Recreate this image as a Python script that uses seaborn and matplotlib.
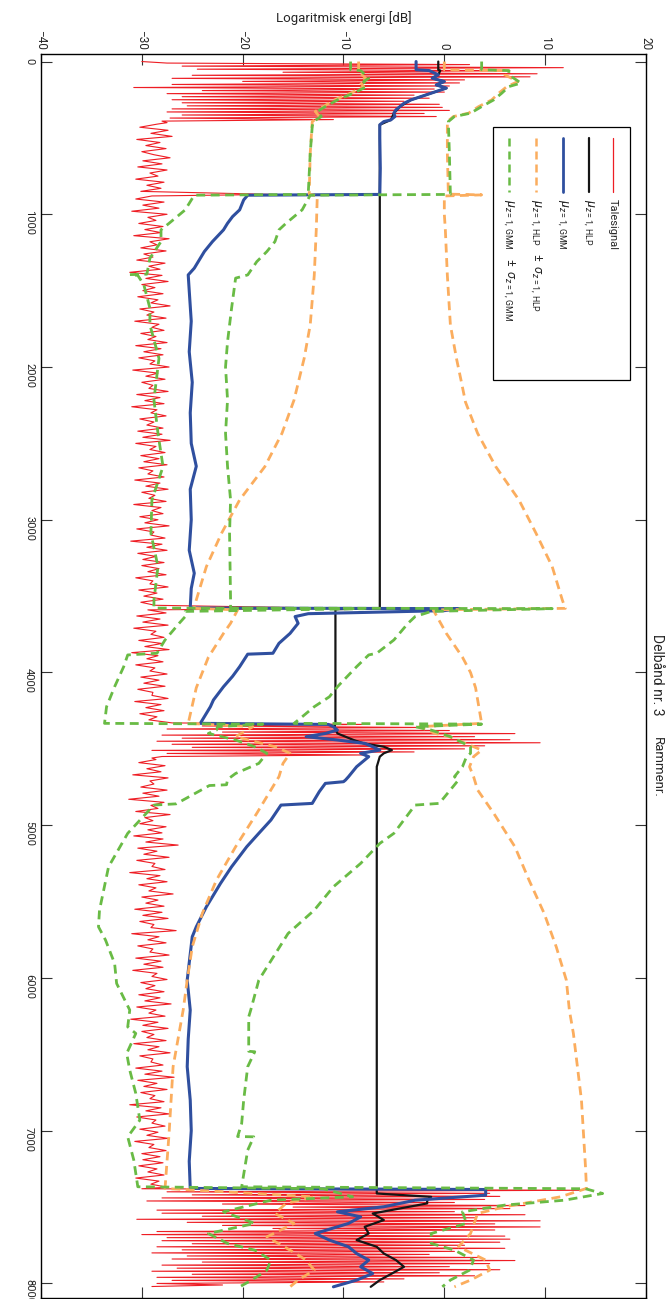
import numpy as np
import pandas as pd
import matplotlib
matplotlib.use("Agg")
import matplotlib.pyplot as plt
from matplotlib.patches import Rectangle
import seaborn as sns

# ---------------- data (frame number, log energy in dB) ----------------
talesignal_speech1 = [-30.0, -27.5, 2.5, -26.0, 11.8, -24.5, 6.5, -16.0, 9.2, -25.0,
                      8.5, -27.0, 2.0, -20.0, 1.5, -27.0, 0.5, -30.8, -1.0, -24.0,
                      0.0, -27.5, -3.0, -26.0, -1.5, -27.0, -4.0, -26.0, -0.5, -25.5,
                      -0.2, -27.0, 0.5, -27.5, -2.0, -26.0, -0.8, -27.2, -11.0, -28.0, -27.5]
talesignal_pause1 = [-28.5, -30.2, -27.4, -29.1, -27.0, -30.5, -28.2, -29.6, -27.6, -30.0,
                     -28.8, -27.2, -29.9, -28.0, -30.4, -27.5, -29.2, -28.4, -30.6, -27.8,
                     -29.5, -28.1, -30.1]
talesignal_pause2 = [-29.0, -30.6, -27.8, -29.9, -28.3, -31.0, -27.5, -29.4, -28.6, -30.3, -27.9, -29.7, -28.1, -30.8, -27.3,
                     -29.2, -28.5, -30.1, -27.6, -29.8, -28.9, -30.5, -27.7, -29.3, -28.2, -31.2, -28.0, -29.6, -27.4, -30.0,
                     -28.7, -29.9, -27.9, -30.4, -28.4, -29.1, -27.2, -30.2, -28.8, -29.5, -27.6, -30.7, -28.3, -29.0, -27.8,
                     -30.1, -28.6, -29.4, -27.5, -30.6, -28.1, -29.8, -27.9, -30.3, -28.7, -29.2, -27.3, -30.9, -28.4, -29.6,
                     -27.7, -30.0, -28.9, -29.3, -27.4, -30.5, -28.2, -29.7, -27.8, -31.0, -28.5, -29.1, -27.6, -30.2, -28.8,
                     -29.5, -27.9, -30.4, -28.0, -29.9, -27.2, -30.6, -28.6, -29.2, -27.7, -30.1, -28.3, -29.8, -27.5, -30.3,
                     -28.9, -29.4, -27.8, -30.7, -28.2, -29.6, -27.4, -30.0, -28.7, -29.3, -27.6, -30.8, -28.1, -29.0, -27.9,
                     -30.2, -28.4, -29.7, -27.3, -30.5, -28.8, -29.1, -27.7, -31.1, -28.0, -29.5, -27.5, -30.4, -28.6, -29.9,
                     -27.8, -30.0, -28.3, -29.4, -27.6, -30.6, -28.9, -29.2, -27.4, -30.3, -28.5, -29.8, -27.9, -30.1, -28.7]
talesignal_pause3 = [-29.4, -27.6, -30.5, -28.2, -29.9, -27.4, -30.8, -28.6, -29.1, -27.8,
                     -30.3, -28.0, -29.7, -27.3, -31.0, -28.4, -29.5, -27.9, -30.6, -28.7,
                     -29.2, -27.5, -30.1, -28.3, -29.8, -27.7, -30.4, -28.9, -29.0, -27.4,
                     -30.7, -28.1, -29.6, -27.8, -30.2, -28.5, -29.3]
talesignal_speech2 = [-27.0, -8.0, -24.0, -2.0, -27.5, 0.5, -22.0, 7.0, -28.0, 3.0,
                      -26.0, 6.5, -28.5, 9.5, -27.0, 4.0, -25.0, 2.0, -29.0, -3.0,
                      -27.5, -8.0, -28.0, -29.0]
talesignal_pause4 = [-28.6, -30.3, -27.7, -29.5, -28.1, -30.9, -27.4, -29.2, -28.8, -30.1, -27.5, -29.9, -28.3, -31.3, -27.8,
                     -29.1, -28.4, -30.6, -27.2, -29.7, -28.9, -30.2, -27.6, -29.4, -28.0, -30.8, -27.9, -29.6, -26.4, -30.4,
                     -28.5, -29.8, -27.3, -30.5, -28.7, -29.0, -27.7, -31.2, -28.2, -29.5, -27.5, -30.3, -28.6, -29.3, -26.9,
                     -30.0, -28.4, -29.6, -27.8, -30.7, -28.0, -29.9, -27.4, -30.2, -28.8, -29.1, -26.6, -31.0, -28.3, -29.4,
                     -27.6, -30.4, -28.9, -29.2, -27.3, -30.6, -28.1, -29.8, -27.9, -30.9, -28.5, -29.0, -27.5, -30.1, -28.7,
                     -29.6, -27.8, -30.3, -28.2, -29.7, -27.1, -30.5, -28.6, -29.3, -27.7, -31.1, -28.4, -29.9, -27.4, -30.0,
                     -28.8, -29.5, -27.6, -30.8, -28.3, -29.4, -27.2, -30.2, -28.9, -29.1, -27.9, -30.6, -28.0, -29.7, -26.8,
                     -30.4, -28.5, -29.8, -27.5, -30.1, -28.7, -29.2, -27.8, -31.2, -28.1, -29.6, -27.3, -30.5, -28.6, -29.0,
                     -27.7, -30.2, -28.4, -29.5, -27.4, -30.7, -28.8, -29.3, -27.6, -30.0, -28.2, -29.9, -27.9, -30.3, -28.5,
                     -29.4, -27.8, -30.6, -28.3, -29.1, -27.5]
talesignal_speech3 = [-30.0, 13.5, -27.5, 4.5, -25.0, 5.5, -28.0, 4.0, -29.5, 1.0,
                      -22.0, 8.0, -15.0, 6.5, -28.5, 1.0, -28.0, 8.0, -24.0, 3.0,
                      -30.5, 9.5, -25.5, 5.0, -22.0, 9.5, -17.0, 5.0, -28.5, -1.0,
                      -30.0, 6.0, -27.5, 6.5, -28.0, 5.5, -25.0, 2.0, -28.5, 6.0,
                      -26.0, 1.0, -29.0, -1.5, -25.5, 3.5, -27.0, 7.0, -24.0, 4.5,
                      -28.0, 0.5, -26.5, 5.5, -29.0, -0.5, -25.0, 3.0, -28.5, -4.0,
                      -27.0, -6.0, -28.5, -22.0, -29.0]
# (first frame, frame step, values)
talesignal_segments = [(0, 10, talesignal_speech1), (410, 20, talesignal_pause1),
                       (870, 1, [-17.0]), (880, 20, talesignal_pause2),
                       (3580, 1, [-10.0]), (3590, 20, talesignal_pause3),
                       (4330, 10, talesignal_speech2), (4570, 20, talesignal_pause4),
                       (7380, 10, talesignal_speech3)]

mu_hlp = [(0, -0.6), (54, -0.6), (59, -0.4), (87, -0.6), (109, -1.2), (131, 0.0), (153, -0.8),
          (174, 0.2), (207, -1.3), (251, -3.3), (295, -4.4), (338, -5.0), (382, -5.3), (414, -6.4),
          (872, -6.4), (3580, -6.4), (3586, -10.8), (4333, -10.8), (4355, -10.9), (4399, -10.6),
          (4442, -9.0), (4464, -8.0), (4486, -6.0), (4508, -5.2), (4529, -6.0), (4551, -6.4),
          (4617, -6.7), (7411, -6.7), (7433, -1.3), (7455, -1.7), (7476, -1.7), (7542, -7.1),
          (7585, -6.0), (7629, -7.9), (7673, -7.5), (7716, -8.7), (7760, -6.7), (7804, -6.0),
          (7847, -4.8), (7891, -4.0), (7935, -5.2), (7978, -6.4), (8022, -7.3)]

mu_gmm = [(0, -2.8), (54, -2.8), (59, -1.5), (87, -0.6), (109, -1.2), (131, 0.0), (153, -0.8),
          (174, 0.2), (207, -1.3), (251, -3.3), (273, -4.0), (295, -4.4), (316, -4.8), (338, -5.0),
          (360, -4.9), (382, -5.3), (393, -6.0), (414, -6.4), (500, -6.4), (700, -6.35), (870, -6.4),
          (875, -19.5), (906, -19.9), (971, -20.3), (1015, -21.0), (1059, -21.5), (1102, -21.9),
          (1179, -23.0), (1244, -23.8), (1353, -24.8), (1397, -25.4), (1500, -25.3), (1700, -25.1),
          (1900, -25.3), (2100, -25.0), (2300, -25.2), (2500, -25.1), (2650, -24.6), (2800, -25.2),
          (3000, -25.1), (3200, -25.3), (3350, -24.8), (3450, -25.1), (3578, -25.2), (3582, 1.5),
          (3595, 0.0), (3615, -13.5), (3634, -14.8), (3678, -14.5), (3744, -15.3), (3809, -16.4),
          (3874, -17.0), (3880, -19.5), (3962, -20.3), (4025, -21.0), (4093, -21.9), (4180, -22.9),
          (4224, -23.2), (4333, -24.2), (4340, -11.5), (4355, -11.0), (4377, -10.6), (4399, -11.8),
          (4420, -13.7), (4442, -10.6), (4464, -7.9), (4486, -7.1), (4508, -6.4), (4529, -8.3),
          (4551, -7.5), (4573, -7.9), (4617, -8.7), (4682, -9.5), (4704, -9.8), (4715, -10.0),
          (4726, -11.8), (4780, -12.4), (4857, -13.1), (4868, -16.2), (4966, -17.2), (5053, -18.4),
          (5141, -19.6), (5272, -21.1), (5381, -22.2), (5534, -23.6), (5665, -24.6), (5730, -25.0),
          (6014, -25.5), (6210, -25.2), (6400, -25.4), (6581, -25.5), (6800, -25.2), (7000, -25.1),
          (7200, -25.3), (7378, -25.2), (7385, 4.1), (7422, 4.1), (7455, -2.9), (7498, -6.0),
          (7531, -10.6), (7564, -8.3), (7607, -9.5), (7673, -12.8), (7716, -11.4), (7760, -9.5),
          (7804, -8.7), (7847, -7.5), (7891, -8.3), (7935, -7.1), (7978, -8.7), (8022, -11.0)]

hlp_upper = [(0, 0.0), (54, 0.0), (59, 6.0), (87, 6.0), (131, 7.3), (164, 6.2), (207, 5.4), (251, 4.7),
             (295, 3.4), (338, 2.4), (360, 0.9), (393, 0.3), (600, 0.3), (868, 0.4), (873, 3.7), (880, 0.0),
             (1000, 0.0), (1100, 0.1), (1400, 0.3), (1724, 0.6), (1943, 1.2), (2100, 1.7), (2230, 2.1),
             (2434, 3.3), (2652, 5.1), (2870, 7.4), (3089, 9.1), (3307, 10.7), (3525, 11.7), (3580, 12.0),
             (3590, -1.1), (3744, 0.2), (3900, 1.8), (4000, 2.6), (4100, 3.1), (4333, 3.7), (4355, -2.5),
             (4399, -0.9), (4420, 0.5), (4508, 3.7), (4551, 2.9), (4617, 2.5), (4682, 2.9), (4769, 3.3),
             (4922, 4.9), (5141, 7.0), (5359, 8.4), (5577, 9.9), (5796, 11.1), (6014, 12.1), (6210, 12.4),
             (6363, 12.8), (6800, 13.6), (7236, 14.0), (7378, 14.1), (7433, 11.5), (7498, 6.0), (7542, 3.3),
             (7673, 2.6), (7760, 1.4), (7847, 4.1), (7913, 4.5), (7978, 2.6), (8022, 1.0)]
hlp_lower = [(0, -8.5), (54, -8.5), (59, -8.6), (109, -7.8), (131, -8.4), (164, -8.0), (207, -9.3),
             (251, -10.9), (295, -12.0), (327, -12.8), (360, -12.4), (393, -13.1), (600, -13.3), (868, -13.4),
             (880, -12.6), (1100, -12.7), (1400, -12.9), (1724, -13.3), (1943, -13.9), (2215, -14.9),
             (2434, -16.1), (2652, -17.8), (2870, -20.3), (3089, -22.1), (3307, -23.6), (3525, -24.6),
             (3580, -24.8), (3590, -20.5), (3678, -21.2), (3744, -21.9), (3900, -23.4), (4100, -24.6),
             (4333, -25.4), (4355, -19.0), (4420, -20.7), (4486, -16.8), (4529, -15.3), (4595, -16.0),
             (4682, -16.4), (4769, -17.2), (4922, -18.6), (5141, -20.7), (5359, -22.6), (5577, -24.0),
             (5796, -25.0), (6014, -25.5), (6210, -25.9), (6581, -26.9), (7018, -27.3), (7378, -27.7),
             (7433, -12.9), (7476, -15.7), (7542, -16.8), (7607, -14.9), (7695, -17.6), (7782, -15.3),
             (7847, -13.7), (7913, -12.9), (7978, -14.5), (8022, -15.3)]

gmm_upper = [(0, 3.7), (54, 3.7), (59, 6.4), (87, 6.4), (141, 7.6), (164, 6.4), (207, 5.7), (251, 4.9),
             (295, 3.7), (338, 2.6), (360, 1.0), (393, 0.4), (600, 0.5), (870, 0.6), (875, -13.3),
             (971, -14.1), (1059, -15.7), (1102, -16.4), (1179, -16.8), (1244, -17.6), (1310, -18.6),
             (1397, -19.5), (1418, -20.7), (1615, -21.1), (1834, -21.5), (2000, -21.7), (2215, -21.5),
             (2434, -21.7), (2652, -21.5), (2870, -21.2), (3089, -21.3), (3525, -21.2), (3578, -21.2),
             (3582, 10.7), (3600, -1.3), (3634, -2.9), (3678, -3.6), (3787, -5.0), (3874, -6.7),
             (3885, -7.5), (3962, -8.7), (4093, -10.6), (4159, -11.4), (4224, -12.9), (4290, -14.1),
             (4333, -14.9), (4338, 3.7), (4355, -2.9), (4377, -1.3), (4420, 0.6), (4486, 2.6), (4529, 2.6),
             (4551, 2.2), (4617, 1.8), (4682, 1.0), (4704, 1.4), (4857, -0.5), (4868, -2.9), (5053, -5.0),
             (5119, -6.4), (5250, -8.3), (5403, -11.0), (5556, -12.9), (5709, -15.5), (6014, -18.4),
             (6210, -19.2), (6254, -19.4), (6480, -19.4), (6483, -18.8), (6581, -19.5), (6800, -19.9),
             (6953, -20.1), (7038, -20.5), (7040, -18.9), (7127, -19.5), (7367, -20.1), (7380, 14.0),
             (7411, 15.7), (7455, 11.9), (7487, 6.0), (7531, 1.8), (7607, 2.2), (7673, -1.3), (7738, -1.3),
             (7782, 1.0), (7847, 2.9), (7913, 2.5), (7978, 0.6), (8022, -0.2)]
gmm_lower = [(0, -9.3), (54, -9.3), (59, -8.3), (109, -7.5), (131, -8.0), (164, -7.7), (207, -9.0),
             (251, -10.6), (295, -11.8), (327, -12.6), (360, -12.2), (393, -13.0), (425, -13.1), (600, -13.3),
             (870, -13.5), (875, -24.8), (971, -25.7), (1059, -27.3), (1102, -28.1), (1179, -28.1),
             (1288, -29.2), (1392, -29.5), (1395, -31.2), (1400, -30.4), (1462, -29.8), (1615, -29.2),
             (1724, -29.2), (1943, -28.3), (2215, -28.8), (2434, -28.4), (2652, -27.9), (2870, -29.0),
             (3089, -29.1), (3307, -28.4), (3525, -28.8), (3578, -28.8), (3582, -8.0), (3600, -25.7),
             (3634, -25.7), (3678, -26.3), (3787, -27.7), (3874, -28.5), (3885, -31.4), (3962, -31.8),
             (4093, -32.7), (4224, -33.5), (4333, -33.7), (4338, -18.0), (4355, -22.5), (4377, -22.6),
             (4399, -23.4), (4442, -20.7), (4486, -18.8), (4529, -17.6), (4595, -18.4), (4661, -20.7),
             (4700, -21.5), (4735, -21.6), (4740, -23.3), (4860, -26.6), (4868, -28.8), (5053, -31.4),
             (5272, -33.3), (5556, -34.2), (5665, -34.3), (5752, -33.6), (5905, -32.7), (6036, -32.5),
             (6210, -31.2), (6320, -31.4), (6363, -30.6), (6494, -31.5), (6603, -31.2), (6756, -30.6),
             (6931, -30.2), (7040, -31.4), (7192, -30.8), (7367, -30.4), (7380, -12.0), (7433, -9.1),
             (7455, -17.2), (7531, -21.9), (7607, -18.8), (7673, -23.4), (7738, -21.5), (7782, -18.8),
             (7847, -17.2), (7913, -17.6), (7978, -19.1), (8022, -20.3)]

energy_ticks = [-40, -30, -20, -10, 0, 10, 20]
frame_ticks = [0, 1000, 2000, 3000, 4000, 5000, 6000, 7000, 8000]
legend_labels = ["Talesignal",
                 r"$\mu_{z=1,\,\mathrm{HLP}}$",
                 r"$\mu_{z=1,\,\mathrm{GMM}}$",
                 r"$\mu_{z=1,\,\mathrm{HLP}}\ \ \pm\ \sigma_{z=1,\,\mathrm{HLP}}$",
                 r"$\mu_{z=1,\,\mathrm{GMM}}\ \ \pm\ \sigma_{z=1,\,\mathrm{GMM}}$"]

# ---------------- styling ----------------
RED, BLACK, BLUE, ORANGE, GREEN = "#ee1d24", "#151515", "#2f4f9f", "#fbad5e", "#69bb45"
DASH = (0, (3.2, 2.0))

sns.set_theme(style="white")
plt.rcParams['font.family'] = ['Roboto', 'DejaVu Sans']
plt.rcParams['mathtext.fontset'] = 'custom'
plt.rcParams['mathtext.rm'] = 'Roboto'
plt.rcParams['mathtext.it'] = 'Roboto:italic'

fig = plt.figure(figsize=(6.69, 12.99), dpi=100)
ax = fig.add_axes([0.0613, 0.0008, 0.9043, 0.9577])


def to_df(pairs):
    return pd.DataFrame(pairs, columns=["frame", "energy"])


red_frames, red_vals = [], []
for start, step, vals in talesignal_segments:
    red_frames.extend(start + step * np.arange(len(vals)))
    red_vals.extend(vals)
red_df = pd.DataFrame({"frame": red_frames, "energy": red_vals})

common = dict(x="energy", y="frame", sort=False, estimator=None, ax=ax, legend=False)
sns.lineplot(data=red_df, color=RED, lw=0.8, zorder=2, **common)
sns.lineplot(data=to_df(mu_hlp), color=BLACK, lw=1.6, zorder=3, **common)
sns.lineplot(data=to_df(mu_gmm), color=BLUE, lw=2.2, zorder=4, **common)
for band in (hlp_upper, hlp_lower):
    sns.lineplot(data=to_df(band), color=ORANGE, lw=2.0, linestyle=DASH, zorder=5, **common)
for band in (gmm_upper, gmm_lower):
    sns.lineplot(data=to_df(band), color=GREEN, lw=2.0, linestyle=DASH, zorder=6, **common)

ax.set_xlim(-40, 20)
ax.set_ylim(8095, -50)
ax.set_xticks(energy_ticks)
ax.set_xticklabels([f"\u2212{abs(t)}" if t < 0 else str(t) for t in energy_ticks])
ax.set_yticks(frame_ticks)
ax.set_yticklabels([str(t) for t in frame_ticks])
ax.tick_params(axis="x", direction="in", top=True, bottom=True, labeltop=True,
               labelbottom=False, labelrotation=-90, length=8, width=0.8, labelsize=8.5, pad=3,
               color="#333333")
ax.tick_params(axis="y", direction="in", left=True, right=True, labelleft=True,
               labelright=False, labelrotation=-90, length=8, width=0.8, labelsize=8, pad=5,
               color="#333333")
for s in ax.spines.values():
    s.set_color("black")
    s.set_linewidth(1.0)
ax.xaxis.set_label_position("top")
ax.set_xlabel("Logaritmisk energi [dB]", fontsize=9.5, labelpad=6)
ax.set_ylabel("")

fig.text(0.982, 0.4804, "Delbånd nr. 3", rotation=-90, ha="center", va="center", fontsize=10)
fig.text(0.982, 0.409, "Rammenr.", rotation=-90, ha="center", va="center", fontsize=9.5)

# ---------------- legend (rotated, drawn by hand) ----------------
box = Rectangle((0.747, 0.738), 0.2266, 0.2033, transform=ax.transAxes, facecolor="white",
                edgecolor="black", lw=0.9, zorder=10)
ax.add_patch(box)
legend_styles = [(RED, "-", 0.9), (BLACK, "-", 1.6), (BLUE, "-", 2.0), (ORANGE, DASH, 1.8), (GREEN, DASH, 1.8)]
legend_x = [0.945, 0.906, 0.863, 0.818, 0.774]
legend_size = [8, 9, 9, 9, 9]
for lx, (c, ls, lw), lab, fs in zip(legend_x, legend_styles, legend_labels, legend_size):
    ax.plot([lx, lx], [0.9325, 0.889], transform=ax.transAxes, color=c, ls=ls, lw=lw, zorder=11)
    ax.text(lx, 0.883, lab, transform=ax.transAxes, rotation=-90, rotation_mode="anchor",
            ha="left", va="center", fontsize=fs, zorder=11)

fig.savefig("out.png", dpi=100)
